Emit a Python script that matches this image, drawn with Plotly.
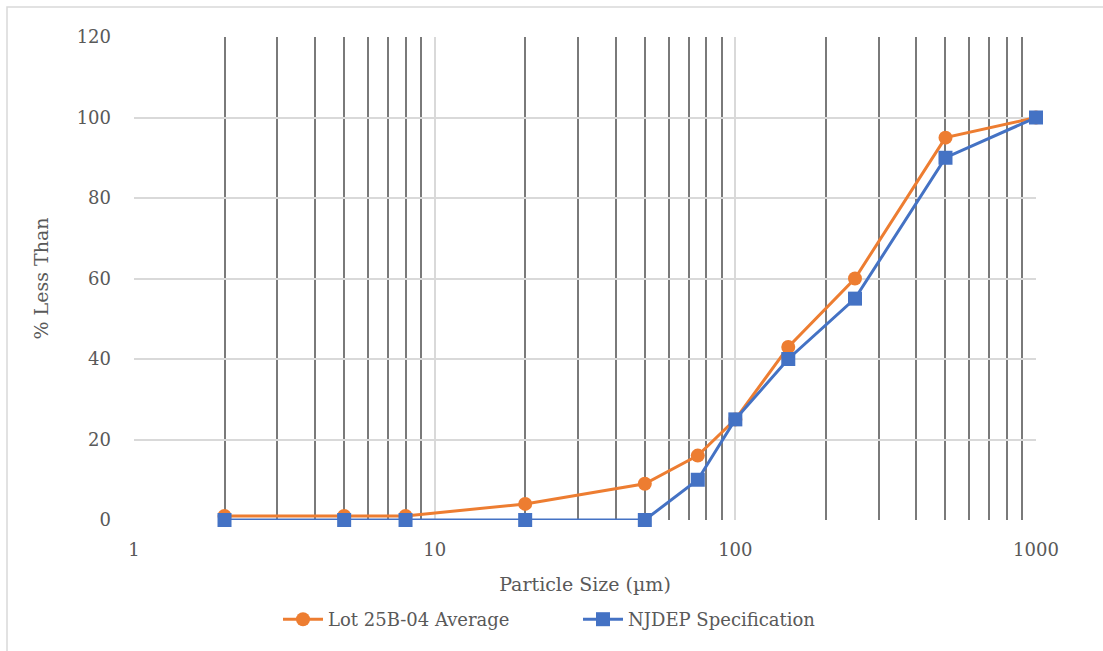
import plotly.graph_objects as go

sizes = [2, 5, 8, 20, 50, 75, 100, 150, 250, 500, 1000]
lot_avg = [1, 1, 1, 4, 9, 16, 25, 43, 60, 95, 100]
njdep = [0, 0, 0, 0, 0, 10, 25, 40, 55, 90, 100]
x_ticks = [1, 10, 100, 1000]
y_ticks = [0, 20, 40, 60, 80, 100, 120]

FONT = "DejaVu Serif"
TXT = "#595959"

fig = go.Figure()
fig.add_trace(go.Scatter(x=sizes, y=lot_avg, name="Lot 25B-04 Average",
                         mode="lines+markers", cliponaxis=False,
                         line=dict(color="#ED7D31", width=3),
                         marker=dict(symbol="circle", size=14, color="#ED7D31")))
fig.add_trace(go.Scatter(x=sizes, y=njdep, name="NJDEP Specification",
                         mode="lines+markers", cliponaxis=False,
                         line=dict(color="#4472C4", width=3),
                         marker=dict(symbol="square", size=14, color="#4472C4")))

W, H = 1103, 651
L, R, T, B = 134, 1036, 37, 520
pw, ph = R - L, B - T
def px(x): return (x - L) / pw
def py(y): return (B - y) / ph

fig.update_layout(
    width=W, height=H,
    margin=dict(l=L, r=W - R, t=T, b=H - B),
    paper_bgcolor="white", plot_bgcolor="white",
    font=dict(family=FONT, size=18, color=TXT),
    showlegend=True,
    legend=dict(orientation="h", x=px(578), xanchor="center", y=py(601), yanchor="top",
                font=dict(family=FONT, size=18, color=TXT), itemwidth=40,
                entrywidth=245, entrywidthmode="pixels"),
    xaxis=dict(type="log", range=[0, 3], tickvals=x_ticks, ticktext=[str(v) for v in x_ticks],
               showgrid=True, gridcolor="#d9d9d9", gridwidth=1.5,
               minor=dict(dtick="D1", showgrid=True, gridcolor="#7a7a7a", gridwidth=1.5, ticks=""),
               zeroline=False, showline=False, ticks="", ticklabelstandoff=17,
               tickfont=dict(family=FONT, size=18, color=TXT),
               title=dict(text="Particle Size (µm)", font=dict(family=FONT, size=19, color=TXT), standoff=18)),
    yaxis=dict(range=[0, 120], tickvals=y_ticks, showgrid=True, gridcolor="#d9d9d9", gridwidth=1.5,
               zeroline=False, showline=False, ticks="", ticklabelstandoff=22,
               tickfont=dict(family=FONT, size=18, color=TXT),
               title=dict(text="% Less Than", font=dict(family=FONT, size=19, color=TXT), standoff=22)),
    shapes=[dict(type="rect", xref="paper", yref="paper",
                 x0=px(7), x1=px(1140), y0=py(7), y1=py(700),
                 line=dict(color="#d9d9d9", width=1.5), layer="below")],
)

fig.write_html("out.html")
